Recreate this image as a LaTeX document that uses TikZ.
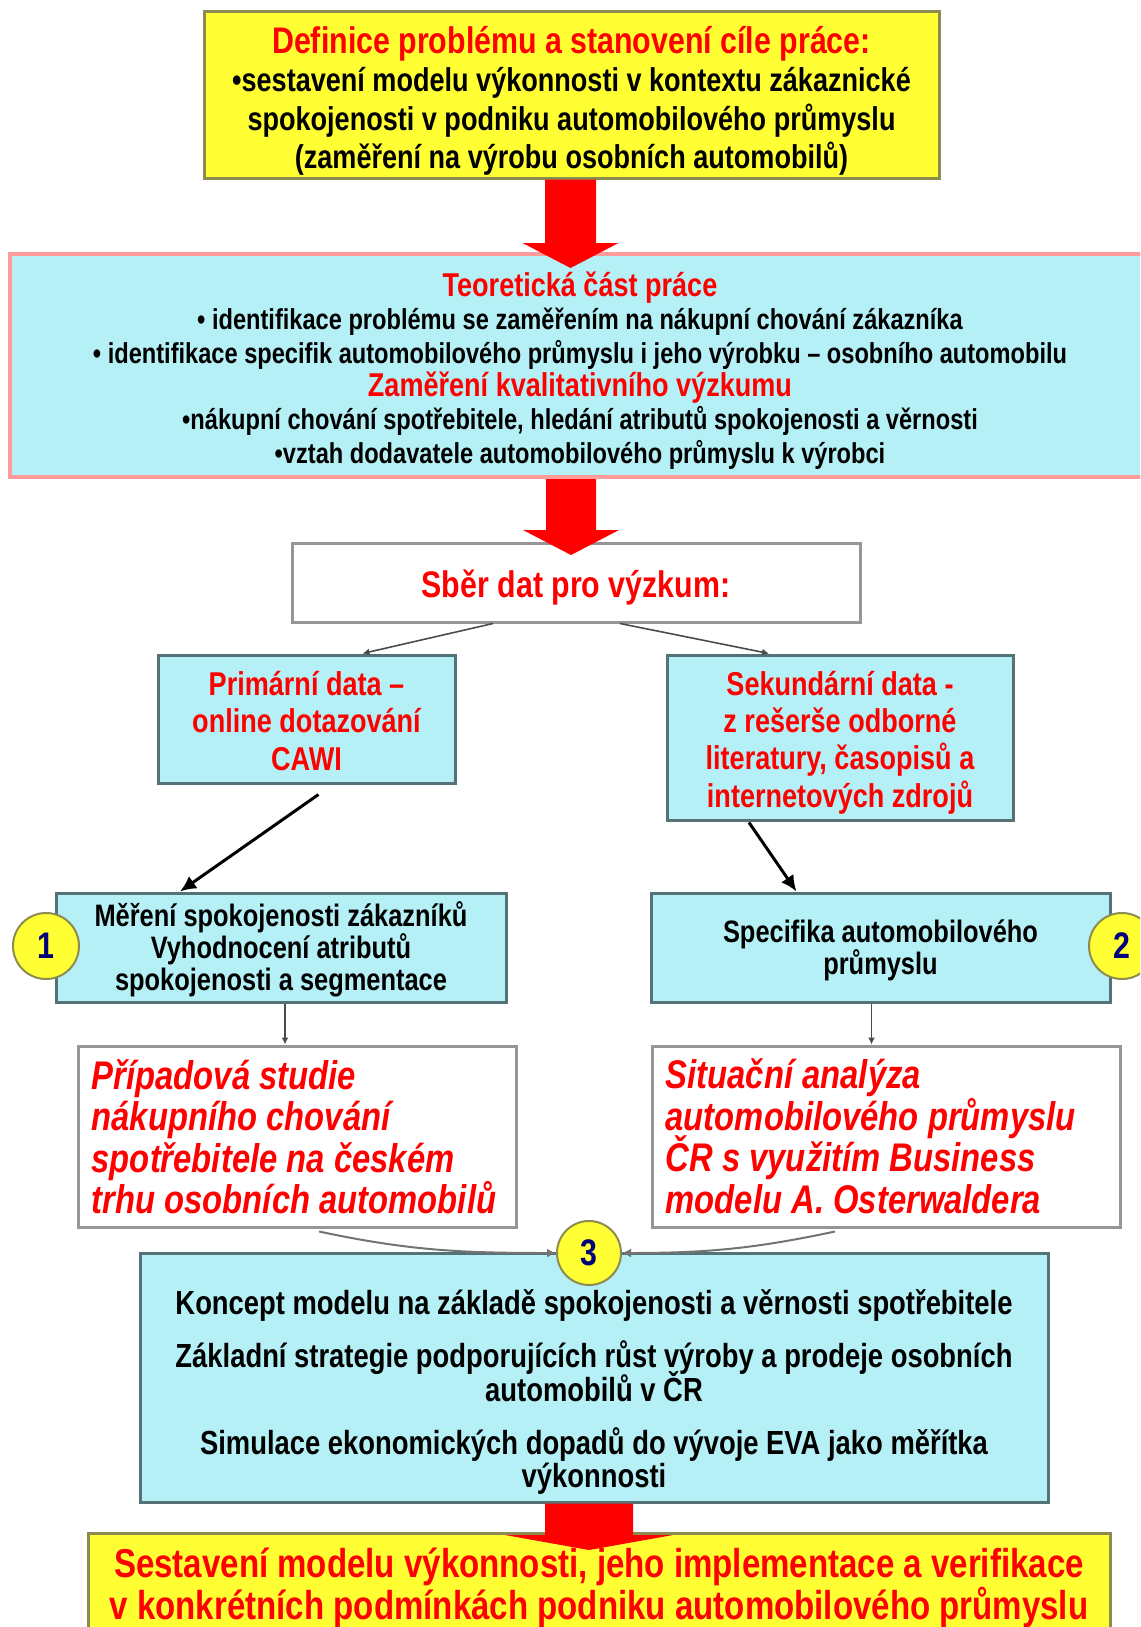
\documentclass[tikz,border=0pt]{standalone}
\usepackage{fontspec}
\setmainfont{Liberation Sans}[FakeStretch=0.82]
\usetikzlibrary{calc,arrows.meta}

\definecolor{boxcyan}{RGB}{180,240,245}
\definecolor{boxyellow}{RGB}{255,255,51}
\definecolor{edgeteal}{RGB}{85,115,118}
\definecolor{edgegray}{RGB}{150,150,150}
\definecolor{edgeolive}{RGB}{140,140,80}
\definecolor{edgepink}{RGB}{255,155,155}
\definecolor{numnavy}{RGB}{0,0,120}
\definecolor{arrowred}{RGB}{255,0,0}

\newcommand\fsz[2]{\fontsize{#1}{#2}\selectfont\lineskiplimit=-100pt\relax}
% filled block arrow: start node anchor, tip coordinate, half shaft, half head, head length
\newcommand\blockarrow[5]{%
  \fill[arrowred] let \p1=(#1), \p2=(#2) in
    (\x2-#3pt,\y1) -- (\x2+#3pt,\y1) -- (\x2+#3pt,\y2+#5pt) -- (\x2+#4pt,\y2+#5pt)
    -- (\x2,\y2) -- (\x2-#4pt,\y2+#5pt) -- (\x2-#3pt,\y2+#5pt) -- cycle;}

\tikzset{
  box/.style={rectangle, inner sep=0pt},
  cyanbox/.style={box, fill=boxcyan, draw=edgeteal, line width=3pt},
  whitebox/.style={box, fill=white, draw=edgegray, line width=3pt},
  yellowbox/.style={box, fill=boxyellow, draw=edgeolive, line width=3pt},
  pinkbox/.style={box, fill=boxcyan, draw=edgepink, line width=4pt},
  txt/.style={inner sep=0pt, align=center, font=\bfseries},
  ltxt/.style={inner sep=0pt, align=left, anchor=west, font=\bfseries\itshape\fsz{40}{41.5}\color{red}},
  numcircle/.style={circle, inner sep=0pt, fill=boxyellow, draw=edgeolive, line width=2pt,
    font=\bfseries\fsz{37}{37}\color{numnavy}},
  thinconn/.style={draw=black!70, line width=1.6pt, -{Latex[length=7pt,width=7pt]}},
  thickconn/.style={draw=black, line width=3pt, -{Latex[length=16pt,width=15pt]}},
  curveconn/.style={draw=black!55, line width=2pt, -{Latex[length=9pt,width=9pt]}},
}

\begin{document}
\begin{tikzpicture}[x=1pt,y=-1pt]
\useasboundingbox (0,0) rectangle (1140,1627);
\clip (0,0) rectangle (1140,1627);

% boxes
\node[yellowbox, minimum width=735, minimum height=166] (top) at (571.5,95) {};
\node[pinkbox, minimum width=1140, minimum height=223] (teor) at (580,365.5) {};
\node[whitebox, minimum width=568, minimum height=79] (sber) at (576,582.5) {};
\node[cyanbox, minimum width=297, minimum height=128] (prim) at (306.5,719) {};
\node[cyanbox, minimum width=346, minimum height=165] (sek) at (840,737.5) {};
\node[cyanbox, minimum width=450, minimum height=109] (mer) at (281,947.5) {};
\node[cyanbox, minimum width=459, minimum height=109] (spec) at (880.5,947.5) {};
\node[whitebox, minimum width=438, minimum height=181] (pri) at (297,1136.5) {};
\node[whitebox, minimum width=468, minimum height=181] (sit) at (886,1136.5) {};
\node[cyanbox, minimum width=908, minimum height=249] (bot) at (594,1377.5) {};
\node[yellowbox, minimum width=1022, minimum height=113] (fin) at (599,1590) {};

% box texts
\node[txt, font=\bfseries\fsz{33}{38.5}] (toptxt) at ($(top)+(0,6)$)
  {{\color{red}\fsz{37}{38.5}Definice problému a stanovení cíle práce:}\\
   •sestavení modelu výkonnosti v kontextu zákaznické\\
   spokojenosti v podniku automobilového průmyslu\\
   (zaměření na výrobu osobních automobilů)};

\node[txt, font=\bfseries\fsz{28.8}{33.3}] (teortxt) at ($(teor)+(0,5)$)
  {{\color{red}\fsz{33}{33.3}Teoretická část práce}\\
   • identifikace problému se zaměřením na nákupní chování zákazníka\\
   • identifikace specifik automobilového průmyslu i jeho výrobku – osobního automobilu\\
   {\color{red}\fsz{33}{33.3}Zaměření kvalitativního výzkumu}\\
   •nákupní chování spotřebitele, hledání atributů spokojenosti a věrnosti\\
   •vztah dodavatele automobilového průmyslu k výrobci};

\node[txt, font=\bfseries\fsz{37}{40}\color{red}] (sbertxt) at ($(sber)+(0,5)$)
  {Sběr dat pro výzkum:};

\node[txt, font=\bfseries\fsz{33}{37.3}\color{red}] (primtxt) at ($(prim)+(0,2)$)
  {Primární data –\\ online dotazování\\ CAWI};

\node[txt, font=\bfseries\fsz{33}{37.3}\color{red}] (sektxt) at ($(sek)+(0,5)$)
  {Sekundární data -\\ z rešerše odborné\\ literatury, časopisů a\\ internetových zdrojů};

\node[txt, font=\bfseries\fsz{31}{32.3}] (mertxt) at ($(mer)+(0,2)$)
  {Měření spokojenosti zákazníků\\ Vyhodnocení atributů\\ spokojenosti a segmentace};

\node[txt, font=\bfseries\fsz{31}{32.3}] (spectxt) at ($(spec)+(0,3)$)
  {Specifika automobilového\\ průmyslu};

\node[ltxt] (pritxt) at ($(pri.west)+(15,0)$)
  {Případová studie\\ nákupního chování\\ spotřebitele na českém\\ trhu osobních automobilů};

\node[ltxt] (sittxt) at ($(sit.west)+(15,0)$)
  {Situační analýza\\ automobilového průmyslu\\ ČR s využitím Business\\ modelu A. Osterwaldera};

\node[txt, font=\bfseries\fsz{33.4}{33.3}] (bottxt) at (594,1392)
  {Koncept modelu na základě spokojenosti a věrnosti spotřebitele\\[20pt]
   Základní strategie podporujících růst výroby a prodeje osobních\\
   automobilů v ČR\\[20pt]
   Simulace ekonomických dopadů do vývoje EVA jako měřítka\\
   výkonnosti};

\node[txt, font=\bfseries\fsz{40.3}{41.5}\color{red}] (fintxt) at (599,1588)
  {Sestavení modelu výkonnosti, jeho implementace a verifikace\\
   v konkrétních podmínkách podniku automobilového průmyslu};

% numbered markers
\node[numcircle, minimum size=66] (c1) at (46,946) {1};
\node[numcircle, minimum size=66] (c2) at (1122,946) {2};
\node[numcircle, minimum size=64] (c3) at (589,1253) {3};

% connectors
\coordinate (merout) at ($(mer.south)+(4,0)$);
\coordinate (specout) at ($(spec.south)+(-9,0)$);
\draw[thinconn] ($(sber.south)+(-83,0)$) -- ($(prim.north)+(56,0)$);
\draw[thinconn] ($(sber.south)+(44,0)$) -- ($(sek.north)+(-71,0)$);
\draw[thickconn] ($(prim.south)+(12,10)$) -- ($(mer.north)+(-101,0)$);
\draw[thickconn] ($(sek.south)+(-91,1)$) -- ($(spec.north)+(-84,0)$);
\draw[thinconn] (merout) -- (merout |- pri.north);
\draw[thinconn] (specout) -- (specout |- sit.north);
\draw[curveconn] ($(pri.south)+(22,3)$) to[out=-12,in=180] (c3.west);
\draw[curveconn] ($(sit.south)+(-51,3)$) to[out=192,in=0] (c3.east);

% red block arrows
\coordinate (tip1) at (570.5,268);
\coordinate (tip2) at (571,555);
\coordinate (tip3) at (589,1550);
\blockarrow{top.south}{tip1}{25.5}{48}{25}
\blockarrow{teor.south}{tip2}{25}{48}{25}
\blockarrow{bot.south}{tip3}{44}{84}{15}
\end{tikzpicture}
\end{document}
